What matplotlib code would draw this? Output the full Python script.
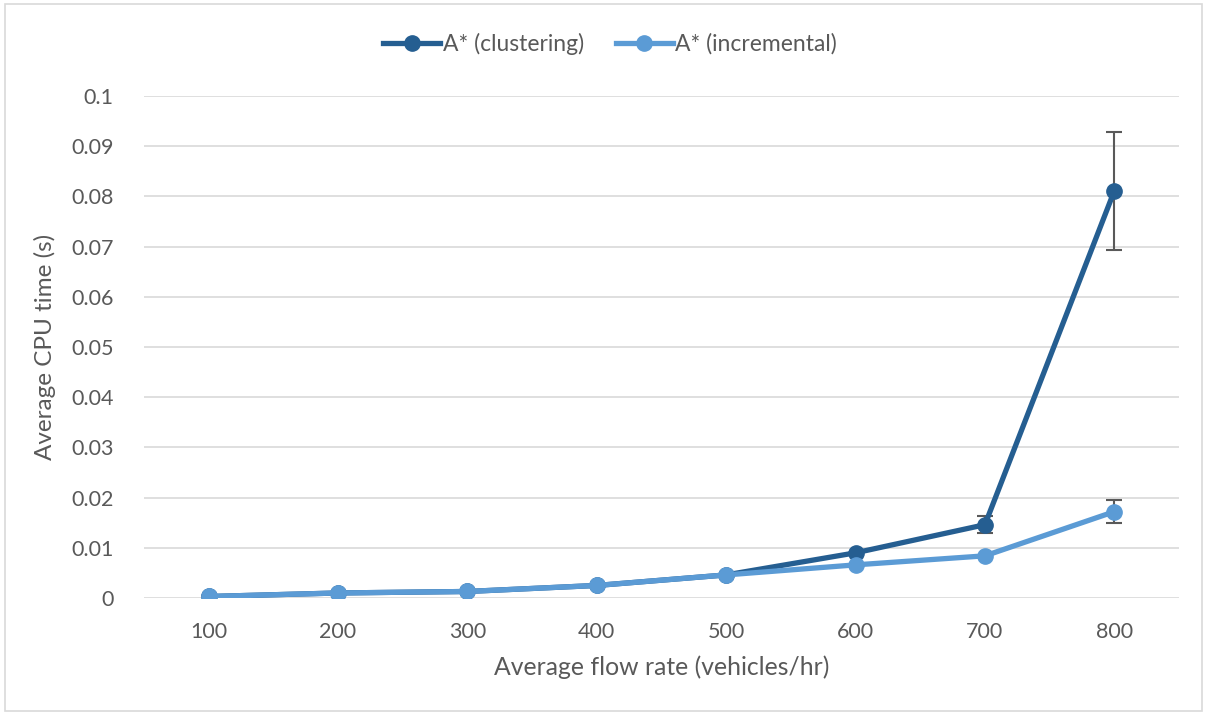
import matplotlib
matplotlib.use("Agg")
import matplotlib.pyplot as plt
from matplotlib.patches import Rectangle
from matplotlib.lines import Line2D

categories = ["100", "200", "300", "400", "500", "600", "700", "800"]
clustering = [0.0003, 0.0010, 0.0013, 0.0025, 0.0046, 0.0090, 0.0146, 0.0811]
clustering_err = [0, 0, 0, 0, 0, 0, 0.0017, 0.0118]
incremental = [0.0003, 0.0010, 0.0013, 0.0025, 0.0046, 0.0066, 0.0084, 0.0172]
incremental_err = [0, 0, 0, 0, 0, 0, 0, 0.0023]
yticks = [0, 0.01, 0.02, 0.03, 0.04, 0.05, 0.06, 0.07, 0.08, 0.09, 0.1]
ytick_labels = ["0", "0.01", "0.02", "0.03", "0.04", "0.05", "0.06", "0.07", "0.08", "0.09", "0.1"]

plt.rcParams['font.family'] = ['Lato', 'DejaVu Sans']
W, H = 1205, 713
fig = plt.figure(figsize=(W / 100, H / 100), dpi=100)
ax = fig.add_axes([144 / W, 1 - 598 / H, (1179 - 144) / W, (598 - 96) / H])

x = list(range(len(categories)))
c1 = "#255E91"
c2 = "#5B9BD5"
ecol = "#595959"
lw = 3.8
ms = 11

ax.errorbar(x, clustering, yerr=clustering_err, color=c1, lw=lw, marker="o", ms=ms,
            ecolor=ecol, elinewidth=1.5, capsize=6, capthick=1.5, zorder=3)
ax.errorbar(x, incremental, yerr=incremental_err, color=c2, lw=lw, marker="o", ms=ms,
            ecolor=ecol, elinewidth=1.5, capsize=6, capthick=1.5, zorder=4)

ax.set_xlim(-0.5, len(categories) - 0.5)
ax.set_ylim(0, 0.1)
ax.set_xticks(x)
ax.set_xticklabels(categories)
ax.set_yticks(yticks)
ax.set_yticklabels(ytick_labels)
ax.tick_params(axis="both", length=0, labelsize=15.5, labelcolor="#595959")
ax.tick_params(axis="x", pad=17)
ax.tick_params(axis="y", pad=22)
ax.grid(axis="y", color="#D9D9D9", lw=1.2)
ax.set_axisbelow(True)
for s in ax.spines.values():
    s.set_visible(False)

ax.set_xlabel("Average flow rate (vehicles/hr)", fontsize=17.8, color="#595959", labelpad=10)
ax.set_ylabel("Average CPU time (s)", fontsize=17.5, color="#595959", labelpad=11)

handles = [Line2D([], [], color=c1, lw=lw, marker="o", ms=ms),
           Line2D([], [], color=c2, lw=lw, marker="o", ms=ms)]
leg = fig.legend(handles, ["A* (clustering)", "A* (incremental)"], loc="center",
                 bbox_to_anchor=(610 / W, 1 - 44 / H), ncol=2, frameon=False,
                 fontsize=16.5, handlelength=2.5, columnspacing=1.4, handletextpad=0.1)
for t in leg.get_texts():
    t.set_color("#595959")

fig.patches.append(Rectangle((5 / W, 2 / H), (W - 8) / W, (H - 6) / H, transform=fig.transFigure,
                             fill=False, edgecolor="#D9D9D9", lw=1.2))

fig.savefig("out.png", dpi=100)
